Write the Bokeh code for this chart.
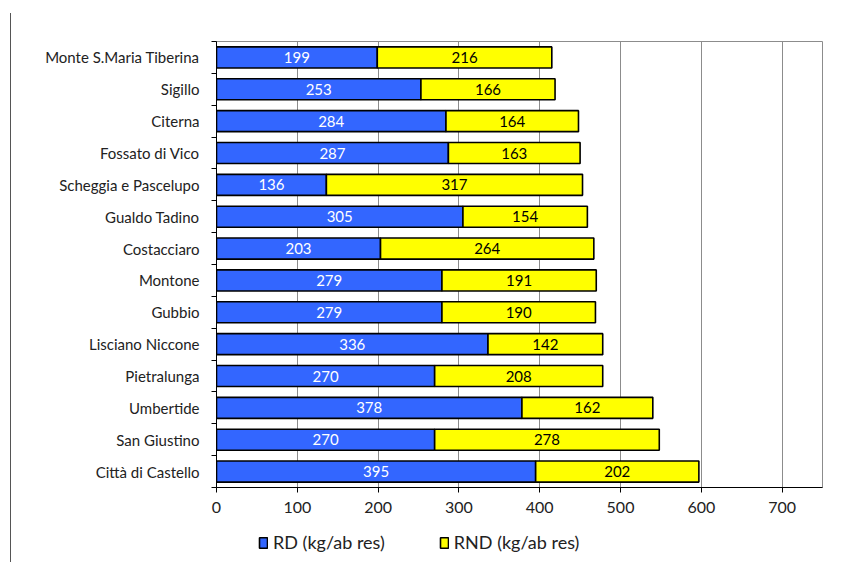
from bokeh.plotting import figure
from bokeh.layouts import column
from bokeh.models import (ColumnDataSource, FixedTicker, LabelSet, Legend, LegendItem, Range1d,
                          InlineStyleSheet)
from bokeh.core.properties import value
from bokeh.embed import file_html
from bokeh.resources import INLINE

comuni = ["Città di Castello", "San Giustino", "Umbertide", "Pietralunga", "Lisciano Niccone",
          "Gubbio", "Montone", "Costacciaro", "Gualdo Tadino", "Scheggia e Pascelupo",
          "Fossato di Vico", "Citerna", "Sigillo", "Monte S.Maria Tiberina"]
rd = [395, 270, 378, 270, 336, 279, 279, 203, 305, 136, 287, 284, 253, 199]
rnd = [202, 278, 162, 208, 142, 190, 191, 264, 154, 317, 163, 164, 166, 216]
x_ticks = [0, 100, 200, 300, 400, 500, 600, 700]
series = ["RD (kg/ab res)", "RND (kg/ab res)"]

FONT = "Lato"
BLUE = "#3366FF"
YELLOW = "#FFFF00"
n = len(comuni)
pos = [i + 0.5 for i in range(n)]
tot = [a + b for a, b in zip(rd, rnd)]
src = ColumnDataSource(dict(
    y=pos, rd=rd, rnd=rnd, tot=tot,
    rd_mid=[a / 2 for a in rd], rnd_mid=[a + b / 2 for a, b in zip(rd, rnd)],
    rd_txt=[str(a) for a in rd], rnd_txt=[str(b) for b in rnd],
))

p = figure(width=845, height=525, output_backend="svg", toolbar_location=None,
           x_range=Range1d(0, 750), y_range=Range1d(0, n),
           min_border_left=216, min_border_right=23, min_border_top=41, min_border_bottom=38)

p.hbar(y="y", left=0, right="rd", height=0.66, source=src,
       fill_color=BLUE, line_color="black", line_width=1.6)
p.hbar(y="y", left="rd", right="tot", height=0.66, source=src,
       fill_color=YELLOW, line_color="black", line_width=1.6)

p.add_layout(LabelSet(x="rd_mid", y="y", text="rd_txt", source=src, text_align="center",
                      text_baseline="middle", text_color="white", text_font=value(FONT),
                      text_font_size="15px"))
p.add_layout(LabelSet(x="rnd_mid", y="y", text="rnd_txt", source=src, text_align="center",
                      text_baseline="middle", text_color="black", text_font=value(FONT),
                      text_font_size="15px"))

p.xaxis.ticker = FixedTicker(ticks=x_ticks)
p.xaxis.axis_line_color = "black"
p.xaxis.major_tick_out = 5
p.xaxis.major_tick_in = 0
p.xaxis.minor_tick_line_color = None
p.xaxis.major_label_text_font = FONT
p.xaxis.major_label_text_font_size = "16px"
p.xaxis.major_label_text_color = "#222222"
p.xaxis.major_label_standoff = 9

p.yaxis.ticker = FixedTicker(ticks=pos, minor_ticks=list(range(n + 1)))
p.yaxis.major_label_overrides = {v: c for v, c in zip(pos, comuni)}
p.yaxis.major_tick_line_color = None
p.yaxis.minor_tick_out = 5
p.yaxis.minor_tick_in = 0
p.yaxis.minor_tick_line_color = "black"
p.yaxis.axis_line_color = "black"
p.yaxis.major_label_text_font = FONT
p.yaxis.major_label_text_font_size = "15px"
p.yaxis.major_label_text_color = "#222222"
p.yaxis.major_label_standoff = 11

p.xgrid.ticker = FixedTicker(ticks=x_ticks)
p.xgrid.grid_line_color = "#8c8c8c"
p.ygrid.grid_line_color = None
p.outline_line_color = "#8c8c8c"

# legend strip below the chart
lg = figure(width=845, height=37, output_backend="svg", toolbar_location=None,
            x_range=Range1d(0, 1), y_range=Range1d(0, 1),
            min_border=0, outline_line_color=None)
lg.axis.visible = False
lg.grid.visible = False
d1 = lg.rect(x=[-5], y=[-5], width=1, height=1, fill_color=BLUE, line_color="black", line_width=1.6)
d2 = lg.rect(x=[-5], y=[-5], width=1, height=1, fill_color=YELLOW, line_color="black", line_width=1.6)
legend = Legend(items=[LegendItem(label=series[0], renderers=[d1]),
                       LegendItem(label=series[1], renderers=[d2])],
                orientation="horizontal", location=(42, 9),
                label_text_font=FONT, label_text_font_size="18px", label_text_color="#222222",
                glyph_width=10, glyph_height=13, spacing=54, label_standoff=5,
                border_line_color=None, background_fill_alpha=0, margin=0, padding=4)
lg.add_layout(legend, "center")

frame_line = InlineStyleSheet(css=":host::before { content: ''; position: absolute; left: 10px; "
                                  "top: 13px; width: 1px; height: 549px; background: #555555; "
                                  "z-index: 5; }")
layout = column(p, lg, spacing=0, stylesheets=[frame_line])
open("out.html", "w").write(file_html(layout, INLINE))
